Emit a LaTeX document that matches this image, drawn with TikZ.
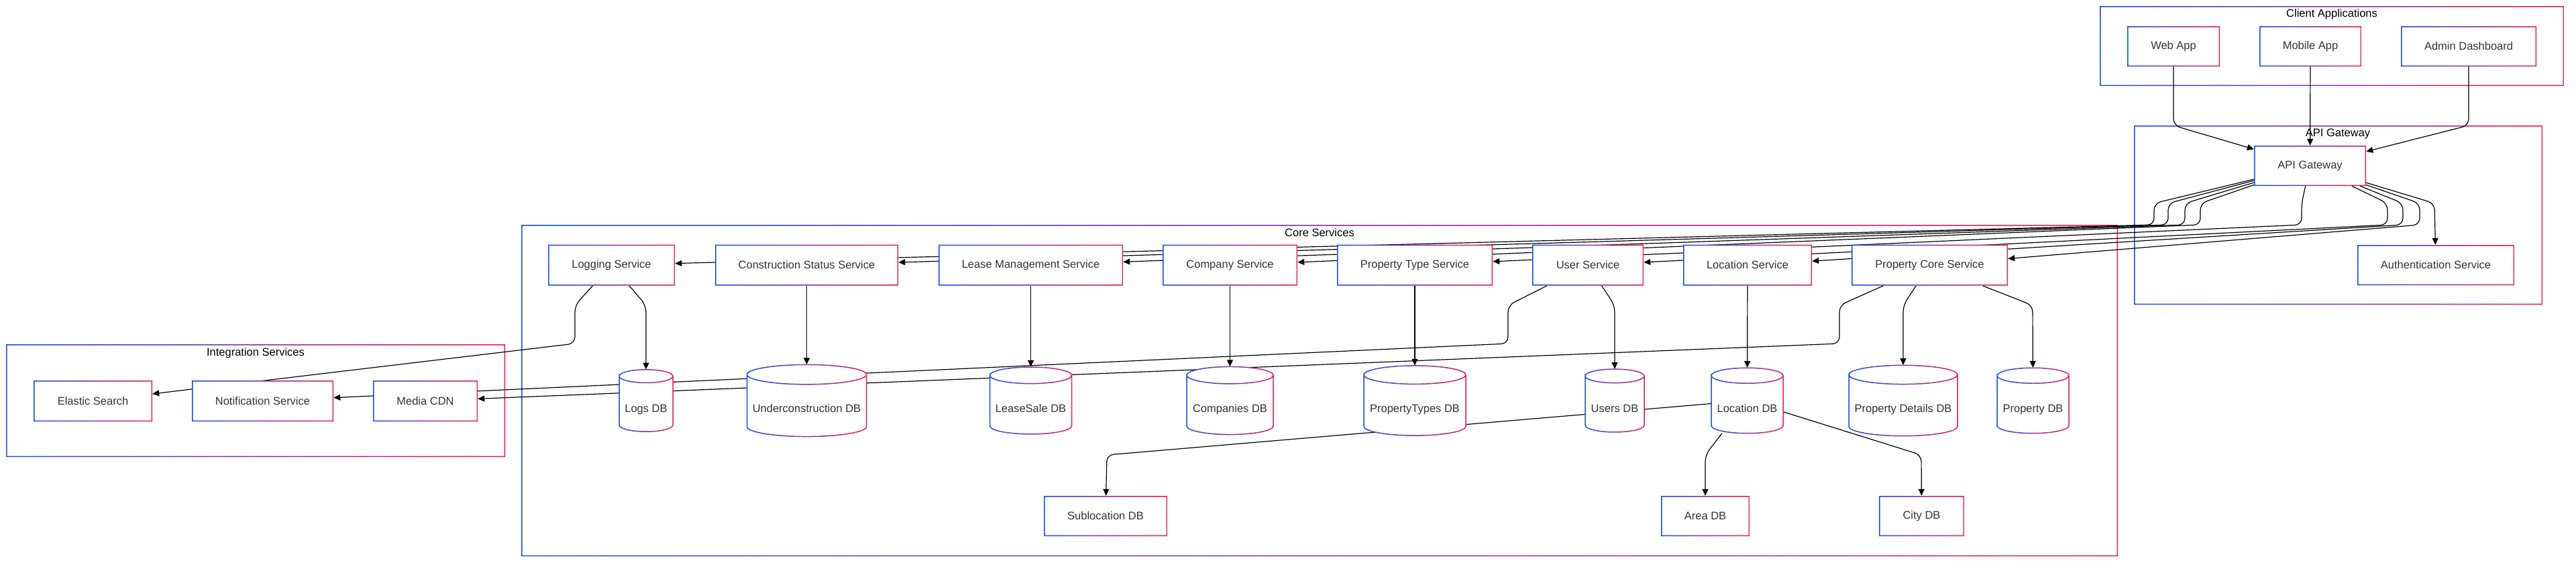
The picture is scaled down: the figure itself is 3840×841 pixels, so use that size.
\documentclass[tikz,border=0pt]{standalone}
\usepackage{fontspec}
\setmainfont{Liberation Sans}
\usetikzlibrary{arrows.meta}
\pgfdeclarelayer{bg}
\pgfdeclarelayer{edges}
\pgfdeclarelayer{nodebg}
\pgfsetlayers{bg,edges,nodebg,main}
\definecolor{cblue}{RGB}{25,75,245}
\definecolor{cred}{RGB}{238,25,85}
\definecolor{txt}{RGB}{51,51,51}

\newcommand\clusterbox[4]{%
  \shade[left color=cblue,right color=cred,even odd rule]
    (#1,#2) rectangle (#3,#4) ({#1+1.5},{#2+1.5}) rectangle ({#3-1.5},{#4-1.5});}

\newcommand\dbcyl[5]{%
  \pgfmathsetmacro\dbrx{#3/2}%
  \pgfmathsetmacro\dbH{63+3*#4}%
  \pgfmathsetmacro\dbA{597-\dbH/2+#4}%
  \pgfmathsetmacro\dbB{597+\dbH/2-#4}%
  \begin{pgfonlayer}{nodebg}
    \fill[white] ({#2-\dbrx},\dbA) arc[start angle=180,end angle=0,x radius=\dbrx pt,y radius=#4pt]
      -- ({#2+\dbrx},\dbB) arc[start angle=0,end angle=-180,x radius=\dbrx pt,y radius=#4pt] -- cycle;
    \foreach \k in {0,...,19}{%
      \pgfmathtruncatemacro\dbp{(\k+0.5)*5}%
      \begin{scope}
        \clip ({#2-\dbrx-2+\k*(#3+4)/20},{\dbA-#4-3}) rectangle ({#2-\dbrx-2+(\k+1)*(#3+4)/20},{\dbB+#4+3});
        \draw[line width=1.5pt, cred!\dbp!cblue]
          ({#2-\dbrx},\dbA) arc[start angle=180,end angle=-180,x radius=\dbrx pt,y radius=#4pt]
          -- ({#2-\dbrx},\dbB) arc[start angle=180,end angle=360,x radius=\dbrx pt,y radius=#4pt]
          -- ({#2+\dbrx},\dbA);
      \end{scope}}
  \end{pgfonlayer}
  \node[dbstyle, minimum width=#3pt, minimum height=\dbH pt] (#1) at (#2,597) {#5};
}

\begin{document}
\begin{tikzpicture}[x=1pt,y=-1pt,
  nfont/.style={font=\fontsize{16.5}{20}\selectfont},
  box/.style={rectangle, fill=white, inner sep=0pt, minimum height=61pt, text=txt, nfont,
    path picture={\shade[left color=cblue,right color=cred,even odd rule]
      (path picture bounding box.south west) rectangle (path picture bounding box.north east)
      ([shift={(1.5pt,1.5pt)}]path picture bounding box.south west) rectangle
      ([shift={(-1.5pt,-1.5pt)}]path picture bounding box.north east);}},
  dbstyle/.style={rectangle, inner sep=0pt, text height=34pt, text depth=0pt, text=txt, nfont},
  ctitle/.style={inner sep=0pt, text=black, nfont},
  conn/.style={draw=black, line width=1.2pt, rounded corners=10pt, -{Triangle[length=10pt,width=9pt]}}]

\useasboundingbox (0,0) rectangle (3840,841);

\begin{pgfonlayer}{bg}
  \fill[white] (0,0) rectangle (3840,841);
  \clusterbox{3130}{9}{3822}{128}
  \clusterbox{3181}{187}{3790}{454}
  \clusterbox{777}{335}{3157}{829}
  \clusterbox{9}{513}{753}{681}
\end{pgfonlayer}

% cluster titles
\node[ctitle] (tclient) at (3476,21) {Client Applications};
\node[ctitle] (tapi) at (3485,199) {API Gateway};
\node[ctitle] (tcore) at (1967,347) {Core Services};
\node[ctitle] (tint) at (381,526) {Integration Services};

% client applications
\node[box, minimum width=138pt, minimum height=60pt] (web) at (3240,69) {Web App};
\node[box, minimum width=152pt, minimum height=60pt] (mobile) at (3444,69) {Mobile App};
\node[box, minimum width=202pt, minimum height=60pt] (admin) at (3680,69) {Admin Dashboard};

% api gateway
\node[box, minimum width=167pt, minimum height=60pt] (api) at (3443.5,247) {API Gateway};
\node[box, minimum width=234pt, minimum height=60pt] (auth) at (3631,395) {Authentication Service};

% core services
\node[box, minimum width=189pt] (log) at (911.5,395) {Logging Service};
\node[box, minimum width=273pt] (cons) at (1202.5,395) {Construction Status Service};
\node[box, minimum width=275pt] (lease) at (1536.5,395) {Lease Management Service};
\node[box, minimum width=201pt] (comp) at (1833.5,395) {Company Service};
\node[box, minimum width=232pt] (ptype) at (2109,395) {Property Type Service};
\node[box, minimum width=166pt] (user) at (2367,395) {User Service};
\node[box, minimum width=192pt] (loc) at (2605,395) {Location Service};
\node[box, minimum width=233pt] (pcore) at (2876.5,395) {Property Core Service};

% databases
\dbcyl{logs}{963}{80}{9.8}{Logs DB}
\dbcyl{ucon}{1202.5}{178}{14.7}{Underconstruction DB}
\dbcyl{lsale}{1536.5}{122}{12.3}{LeaseSale DB}
\dbcyl{compdb}{1833.5}{129}{12.7}{Companies DB}
\dbcyl{ptdb}{2109}{152}{13.7}{PropertyTypes DB}
\dbcyl{usersdb}{2407}{88}{10.3}{Users DB}
\dbcyl{locdb}{2604.5}{107}{11.5}{Location DB}
\dbcyl{pddb}{2837}{162}{14.1}{Property Details DB}
\dbcyl{propdb}{3030.5}{107}{11.5}{Property DB}

\node[box, minimum width=184pt, minimum height=60pt] (subloc) at (1648,769) {Sublocation DB};
\node[box, minimum width=132pt, minimum height=60pt] (area) at (2542,769) {Area DB};
\node[box, minimum width=127pt, minimum height=60pt] (city) at (2864.5,769) {City DB};

% integration services
\node[box, minimum width=177pt] (elastic) at (138.5,597.5) {Elastic Search};
\node[box, minimum width=211pt] (notif) at (391.5,597.5) {Notification Service};
\node[box, minimum width=156pt] (media) at (634,597.5) {Media CDN};

\begin{pgfonlayer}{edges}
  \draw[conn] (web) -- (3240,187) -- (api);
  \draw[conn] (mobile) -- (api);
  \draw[conn] (admin) -- (3680,187) -- (api);
  \draw[conn] (api) -- (3629,303) -- (auth);
  \draw[conn] (api) -- (3211,303) -- (3211,335) -- (log);
  \draw[conn] (api) -- (3232,303) -- (3232,335) -- (cons);
  \draw[conn] (api) -- (3257,303) -- (3257,335) -- (lease);
  \draw[conn] (api) -- (3280,303) -- (3280,335) -- (comp);
  \draw[conn] (api) -- (3431,303) -- (3431,335) -- (ptype);
  \draw[conn] (api) -- (3559,303) -- (3559,335) -- (user);
  \draw[conn] (api) -- (3582,303) -- (3582,335) -- (loc);
  \draw[conn] (api) -- (3607,303) -- (3607,335) -- (pcore);
  \draw[conn] (log) -- (963,455) -- (logs);
  \draw[conn] (log) -- (857,455) -- (857,512) -- (elastic);
  \draw[conn] (cons) -- (ucon);
  \draw[conn] (lease) -- (lsale);
  \draw[conn] (comp) -- (compdb);
  \draw[conn] (ptype) -- (ptdb);
  \draw[conn] (user) -- (2407,455) -- (usersdb);
  \draw[conn] (user) -- (2248,455) -- (2248,512) -- (notif);
  \draw[conn] (loc) -- (locdb);
  \draw[conn] (pcore) -- (2742,455) -- (2742,512) -- (media);
  \draw[conn] (pcore) -- (2837,455) -- (pddb);
  \draw[conn] (pcore) -- (3030,455) -- (propdb);
  \draw[conn] (locdb) -- (1650,678) -- (subloc);
  \draw[conn] (locdb) -- (2542,678) -- (area);
  \draw[conn] (locdb) -- (2864,678) -- (city);
\end{pgfonlayer}
\end{tikzpicture}
\end{document}
